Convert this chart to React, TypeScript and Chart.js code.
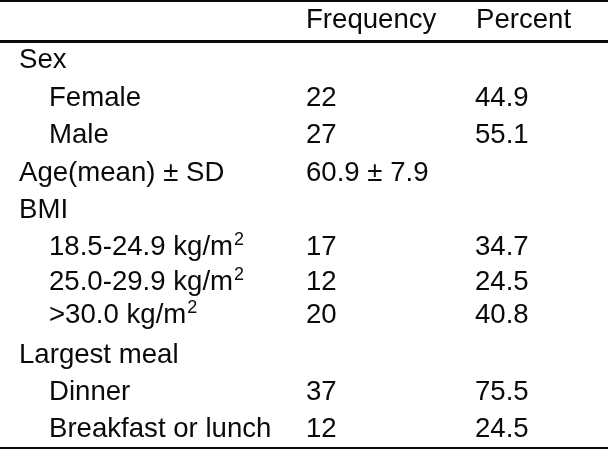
import React, { useEffect, useRef } from "react";
import { Chart, registerables } from "chart.js";

Chart.register(...registerables);

// ---- table content ----
const columnHeaders = ["", "Frequency", "Percent"];
const rowLabels = [
  "Sex",
  "Female",
  "Male",
  "Age(mean) ± SD",
  "BMI",
  "18.5-24.9 kg/m",
  "25.0-29.9 kg/m",
  ">30.0 kg/m",
  "Largest meal",
  "Dinner",
  "Breakfast or lunch",
];
const rowSuperscripts = ["", "", "", "", "", "2", "2", "2", "", "", ""];
const rowIndented = [false, true, true, false, false, true, true, true, false, true, true];
const frequency = ["", "22", "27", "60.9 ± 7.9", "", "17", "12", "20", "", "37", "12"];
const percent = ["", "44.9", "55.1", "", "", "34.7", "24.5", "40.8", "", "75.5", "24.5"];

// ---- layout (scale units = pixels of a 608x450 sheet) ----
const W = 608;
const H = 450;
const headerBaseline = 28;
const rowBaselines = [68, 106, 143, 181, 218, 255, 290, 323, 363, 400, 437];
const colX = [19, 306, 475];
const headerX = [19, 306, 476];
const indentX = 49;
const rules = [
  { y: 0, h: 2 },
  { y: 40, h: 3 },
  { y: 447, h: 2 },
];
const FONT = "27.6px 'Liberation Sans', Arial, sans-serif";
const SUP_FONT = "18px 'Liberation Sans', Arial, sans-serif";
const INK = "#0a0a0a";

const tablePlugin = {
  id: "tableDraw",
  afterDraw(chart: any) {
    const { ctx, scales } = chart;
    const xs = scales.x;
    const ys = scales.y;
    const px = (v: number) => xs.getPixelForValue(v);
    const py = (v: number) => ys.getPixelForValue(v);
    ctx.save();
    ctx.fillStyle = "#ffffff";
    ctx.fillRect(0, 0, chart.width, chart.height);
    ctx.fillStyle = INK;
    // rules
    rules.forEach((r) => {
      const y0 = py(r.y);
      const y1 = py(r.y + r.h);
      ctx.fillRect(px(0), Math.min(y0, y1), px(W) - px(0), Math.abs(y1 - y0));
    });
    ctx.textBaseline = "alphabetic";
    ctx.textAlign = "left";
    ctx.font = FONT;
    // header
    columnHeaders.forEach((t, i) => {
      if (t) ctx.fillText(t, px(headerX[i]), py(headerBaseline));
    });
    // rows
    rowLabels.forEach((label, i) => {
      const y = py(rowBaselines[i]);
      const x = px(rowIndented[i] ? indentX : colX[0]);
      ctx.font = FONT;
      ctx.fillText(label, x, y);
      if (rowSuperscripts[i]) {
        const w = ctx.measureText(label).width;
        ctx.font = SUP_FONT;
        ctx.fillText(rowSuperscripts[i], x + w + 1, y - 10);
        ctx.font = FONT;
      }
      if (frequency[i]) ctx.fillText(frequency[i], px(colX[1]), y);
      if (percent[i]) ctx.fillText(percent[i], px(colX[2]), y);
    });
    ctx.restore();
  },
};

export default function App() {
  const ref = useRef<HTMLCanvasElement | null>(null);
  useEffect(() => {
    document.body.style.margin = "0";
    const canvas = ref.current;
    if (!canvas) return;
    const chart = new Chart(canvas, {
      type: "scatter",
      data: { datasets: [{ data: [], pointRadius: 0 }] },
      options: {
        animation: false,
        responsive: false,
        maintainAspectRatio: false,
        devicePixelRatio: 1,
        layout: { padding: 0 },
        plugins: { legend: { display: false }, tooltip: { enabled: false } },
        scales: {
          x: { type: "linear", min: 0, max: W, display: false },
          y: { type: "linear", min: 0, max: H, reverse: true, display: false },
        },
      },
      plugins: [tablePlugin],
    });
    return () => chart.destroy();
  }, []);
  return (
    <div style={{ width: W, height: H, background: "#fff" }}>
      <canvas ref={ref} width={W} height={H} style={{ display: "block" }} />
    </div>
  );
}
